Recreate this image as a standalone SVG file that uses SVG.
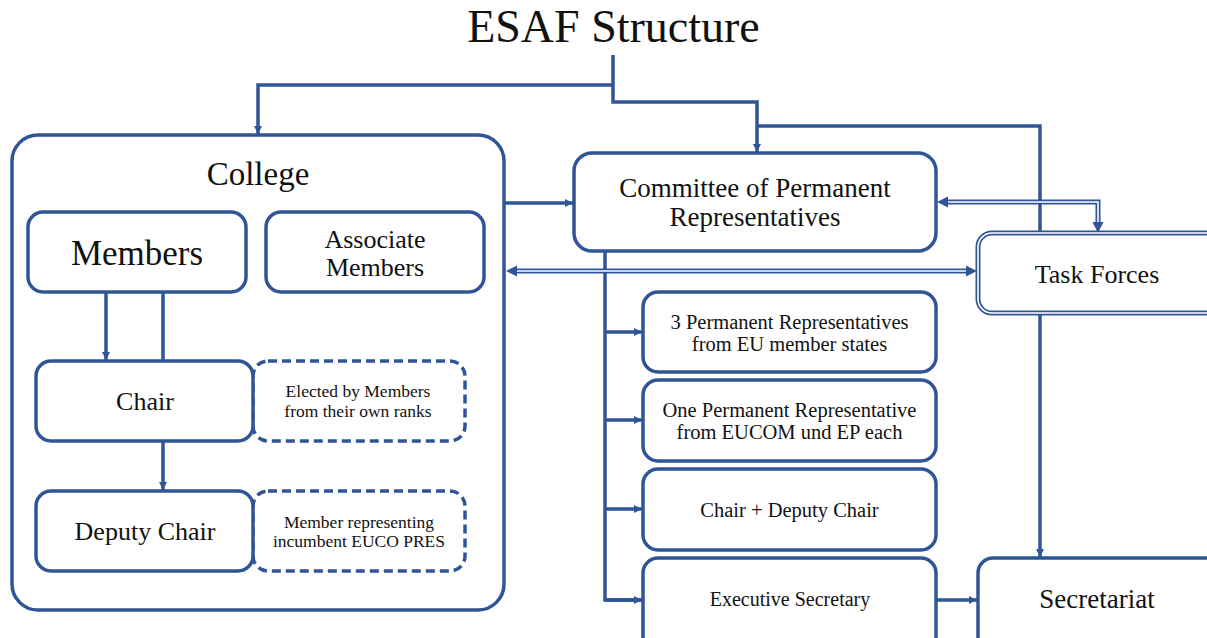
<svg xmlns="http://www.w3.org/2000/svg" width="1207" height="638" viewBox="0 0 1207 638">
<defs>
<style>
.box{fill:#fff;stroke:#2F5597;stroke-width:3.5}
.dash{fill:#fff;stroke:#2F5597;stroke-width:3.5;stroke-dasharray:9 5}
.ln{fill:none;stroke:#2F5597;stroke-width:3.5}
.dbl{fill:none;stroke:#2F5597;stroke-width:5}
.dblw{fill:none;stroke:#fff;stroke-width:1.6}
.ah{fill:#2F5597}
text{font-family:"Liberation Serif","Times New Roman",serif;fill:#111;text-anchor:middle}
</style>
<marker id="arr" markerUnits="userSpaceOnUse" markerWidth="10" markerHeight="10" refX="8" refY="4" orient="auto"><path d="M0,0 L8,4 L0,8 z" fill="#2F5597"/></marker>
</defs>
<rect width="1207" height="638" fill="#fff"/>
<text x="613.5" y="42" font-size="46">ESAF Structure</text>

<g id="college"><rect class="box" x="12" y="135" width="492" height="475" rx="26"/><text x="258" y="185" font-size="33">College</text></g>

<g id="connectors">
<path class="ln" d="M613,55 V102 H757 V152" marker-end="url(#arr)"/>
<path class="ln" d="M613,85 H258 V134" marker-end="url(#arr)"/>
<path class="ln" d="M757,126 H1040 V557" marker-end="url(#arr)"/>
<path class="ln" d="M504,203 H573" marker-end="url(#arr)"/>
<path class="ln" d="M106,292 V360" marker-end="url(#arr)"/>
<path class="ln" d="M163,292 V361"/>
<path class="ln" d="M163,441 V490" marker-end="url(#arr)"/>
<path class="ln" d="M605,251 V600 H642"/>
<path class="ln" d="M605,332 H642" marker-end="url(#arr)"/>
<path class="ln" d="M605,420 H642" marker-end="url(#arr)"/>
<path class="ln" d="M605,509 H642" marker-end="url(#arr)"/>
<path class="ln" d="M605,600 H642" marker-end="url(#arr)"/>
<path class="ln" d="M936,600 H977" marker-end="url(#arr)"/>
<path class="dbl" d="M516,271 H966"/>
<path class="dblw" d="M516,271 H966"/>
<polygon class="ah" points="506,271 517,265.5 517,276.5"/>
<polygon class="ah" points="977,271 966,265.5 966,276.5"/>
<path class="dbl" d="M947,202 H1098 V222"/>
<path class="dblw" d="M947,202 H1098 V222"/>
<polygon class="ah" points="937,202 948,196.5 948,207.5"/>
<polygon class="ah" points="1098,233 1092.5,222 1103.5,222"/>
</g>

<g id="members"><rect class="box" x="28" y="212" width="218" height="80" rx="15"/><text x="137" y="265" font-size="35">Members</text></g>
<g id="associate"><rect class="box" x="266" y="212" width="218" height="80" rx="15"/><text x="375" y="248" font-size="26">Associate</text><text x="375" y="276" font-size="26">Members</text></g>
<g id="elected"><rect class="dash" x="253" y="361" width="212" height="80" rx="15"/><text x="358" y="397" font-size="17.5">Elected by Members</text><text x="358" y="417" font-size="17.5">from their own ranks</text></g>
<g id="chair"><rect class="box" x="36" y="361" width="217" height="80" rx="15"/><text x="145" y="410" font-size="26">Chair</text></g>
<g id="memberrep"><rect class="dash" x="253" y="491" width="212" height="80" rx="15"/><text x="359" y="528" font-size="17.5">Member representing</text><text x="359" y="547" font-size="17.5">incumbent EUCO PRES</text></g>
<g id="deputy"><rect class="box" x="36" y="491" width="217" height="80" rx="15"/><text x="145" y="540" font-size="26">Deputy Chair</text></g>

<g id="committee"><rect class="box" x="574" y="153" width="362" height="98" rx="18"/><text x="755" y="197" font-size="27">Committee of Permanent</text><text x="755" y="226" font-size="27">Representatives</text></g>
<g id="taskforces"><rect x="978" y="233" width="250" height="80" rx="14" fill="#fff" stroke="#2F5597" stroke-width="5"/><rect x="978" y="233" width="250" height="80" rx="14" fill="none" stroke="#fff" stroke-width="1.6"/><text x="1097" y="283" font-size="26">Task Forces</text></g>
<g id="perm3"><rect class="box" x="643" y="292" width="293" height="80" rx="15"/><text x="789.5" y="329" font-size="20.5">3 Permanent Representatives</text><text x="789.5" y="351" font-size="20.5">from EU member states</text></g>
<g id="perm1"><rect class="box" x="643" y="380" width="293" height="81" rx="15"/><text x="789.5" y="417" font-size="20.5">One Permanent Representative</text><text x="789.5" y="439" font-size="20.5">from EUCOM und EP each</text></g>
<g id="chairdeputy"><rect class="box" x="643" y="469" width="293" height="81" rx="15"/><text x="789.5" y="517" font-size="20.5">Chair + Deputy Chair</text></g>
<g id="execsec"><rect class="box" x="643" y="558" width="293" height="95" rx="15"/><text x="790" y="606" font-size="20">Executive Secretary</text></g>
<g id="secretariat"><rect class="box" x="978" y="558" width="250" height="95" rx="15"/><text x="1097" y="608" font-size="27">Secretariat</text></g>
</svg>
